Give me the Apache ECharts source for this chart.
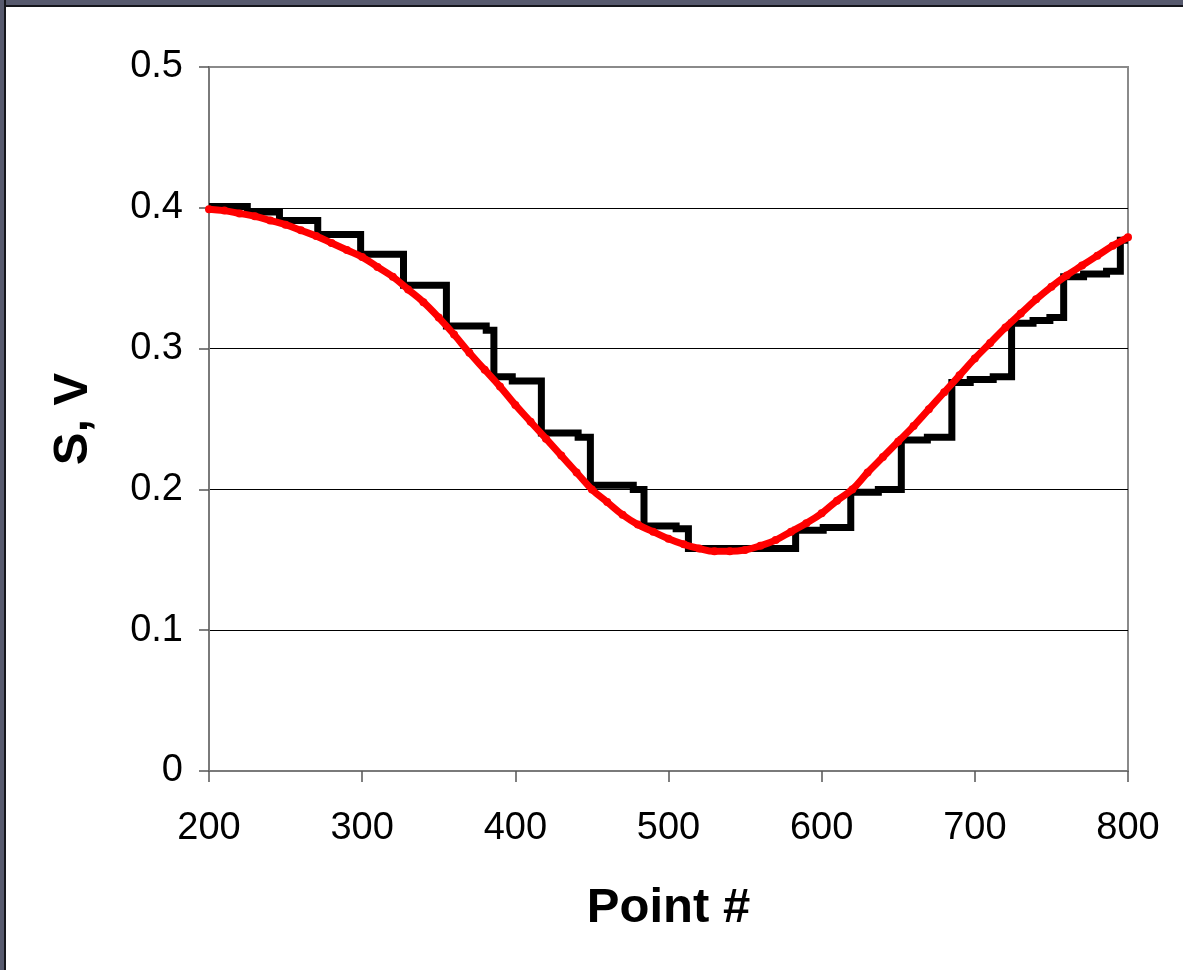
<!DOCTYPE html>
<html>
<head>
<meta charset="utf-8">
<title>S, V vs Point #</title>
<script src="https://cdn.jsdelivr.net/npm/echarts@6/dist/echarts.min.js"></script>
<style>
  html, body { margin: 0; padding: 0; background: #ffffff; }
  #wrap { position: relative; width: 1183px; height: 970px; overflow: hidden; background: #ffffff; }
  #chart { position: absolute; left: 0; top: 0; width: 1183px; height: 970px; }
  .bar-top { position: absolute; left: 0; top: 0; width: 1183px; height: 5px; background: #575a6e; border-bottom: 2px solid #15161c; z-index: 2; }
  .bar-left { position: absolute; left: 0; top: 0; width: 4px; height: 970px; background: #575a6e; border-right: 2px solid #15161c; z-index: 2; }
</style>
</head>
<body>
<div id="wrap">
  <div id="chart"></div>
  <div class="bar-top"></div>
  <div class="bar-left"></div>
</div>
<script>
// Quantized signal: each step begins at stepStart[i] and holds stepLevel[i]
const stepStart = [200, 225, 246, 271, 299, 327, 355, 381, 386, 398, 417, 441, 449, 477, 484, 505, 513,
                   583, 601, 619, 637, 652, 669, 685, 697, 712, 724, 738, 749, 758, 771, 786, 795];
const stepLevel = [0.401, 0.397, 0.391, 0.381, 0.367, 0.345, 0.316, 0.313, 0.280, 0.277, 0.240, 0.237, 0.203, 0.200, 0.174, 0.172, 0.158,
                   0.171, 0.173, 0.198, 0.200, 0.235, 0.237, 0.276, 0.278, 0.280, 0.318, 0.320, 0.322, 0.351, 0.353, 0.355, 0.377];
const stepEnd = 800;

// Smooth reference signal sampled every 10 points
const smoothX = [200, 210, 220, 230, 240, 250, 260, 270, 280, 290,
                 300, 310, 320, 330, 340, 350, 360, 370, 380, 390,
                 400, 410, 420, 430, 440, 450, 460, 470, 480, 490,
                 500, 510, 520, 530, 540, 550, 560, 570, 580, 590,
                 600, 610, 620, 630, 640, 650, 660, 670, 680, 690,
                 700, 710, 720, 730, 740, 750, 760, 770, 780, 790, 800];
const smoothY = [0.399, 0.398, 0.396, 0.394, 0.391, 0.388, 0.384, 0.380, 0.375, 0.370,
                 0.365, 0.358, 0.351, 0.342, 0.333, 0.322, 0.310, 0.297, 0.285, 0.273,
                 0.260, 0.248, 0.236, 0.224, 0.212, 0.200, 0.191, 0.182, 0.175, 0.170,
                 0.165, 0.161, 0.158, 0.156, 0.156, 0.157, 0.160, 0.164, 0.170, 0.176,
                 0.183, 0.192, 0.200, 0.212, 0.223, 0.234, 0.245, 0.257, 0.269, 0.281,
                 0.293, 0.304, 0.315, 0.325, 0.335, 0.344, 0.352, 0.359, 0.366, 0.373, 0.379];

// Axis ranges and ticks
const xMin = 200, xMax = 800, xStep = 100;
const yMin = 0, yMax = 0.5, yStep = 0.1;
const xTitle = 'Point #';
const yTitle = 'S, V';

const stepData = stepStart.map((x, i) => [x, stepLevel[i]]);
stepData.push([stepEnd, stepLevel[stepLevel.length - 1]]);
const smoothData = smoothX.map((x, i) => [x, smoothY[i]]);

const FONT = '"Liberation Sans", Arial, sans-serif';
const chart = echarts.init(document.getElementById('chart'), null, { renderer: 'canvas' });

chart.setOption({
  animation: false,
  backgroundColor: '#ffffff',
  grid: {
    left: 209, right: 55, top: 67, bottom: 199,
    show: true, borderColor: '#8a8a8a', borderWidth: 2, backgroundColor: '#ffffff'
  },
  xAxis: {
    type: 'value',
    min: xMin, max: xMax, interval: xStep,
    name: xTitle,
    nameLocation: 'middle',
    nameGap: 113,
    nameTextStyle: { fontFamily: FONT, fontSize: 49, fontWeight: 'bold', color: '#000' },
    axisLine: { show: true, onZero: false, lineStyle: { color: '#7a7a7a', width: 2 } },
    axisTick: { show: true, inside: false, length: 11, lineStyle: { color: '#555', width: 1.5 } },
    axisLabel: { margin: 39, fontFamily: FONT, fontSize: 38, color: '#000' },
    splitLine: { show: false }
  },
  yAxis: {
    type: 'value',
    min: yMin, max: yMax, interval: yStep,
    name: yTitle,
    nameLocation: 'middle',
    nameGap: 111,
    nameRotate: 90,
    nameTextStyle: { fontFamily: FONT, fontSize: 49, fontWeight: 'bold', color: '#000' },
    axisLine: { show: true, onZero: false, lineStyle: { color: '#7a7a7a', width: 2 } },
    axisTick: { show: true, inside: false, length: 10, lineStyle: { color: '#555', width: 1.5 } },
    axisLabel: { margin: 26, fontFamily: FONT, fontSize: 38, color: '#000',
                 formatter: v => (v === 0 ? '0' : v.toFixed(1)) },
    splitLine: { show: true, showMinLine: false, showMaxLine: false,
                 lineStyle: { color: '#000', width: 1.2 } }
  },
  series: [
    {
      name: 'quantized',
      type: 'line',
      step: 'end',
      data: stepData,
      showSymbol: false,
      lineStyle: { color: '#000000', width: 7, join: 'miter' },
      emphasis: { disabled: true },
      z: 2
    },
    {
      name: 'smooth',
      type: 'line',
      smooth: 0.4,
      data: smoothData,
      symbol: 'circle',
      symbolSize: 8,
      itemStyle: { color: '#ff0000', borderWidth: 0 },
      lineStyle: { color: '#ff0000', width: 7 },
      emphasis: { disabled: true },
      z: 3
    }
  ]
});
</script>
</body>
</html>
